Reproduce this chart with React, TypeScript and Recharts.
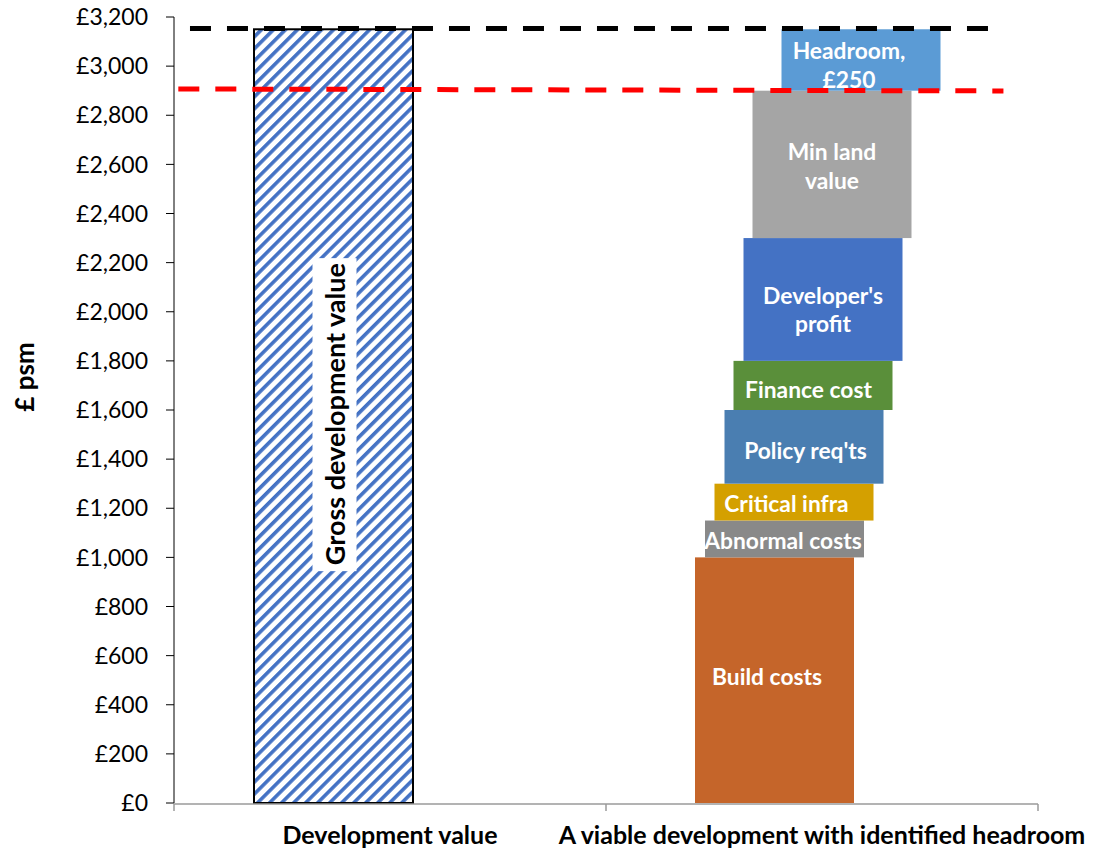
import React from 'react';
import { ComposedChart, Bar, XAxis, YAxis, ReferenceLine } from 'recharts';

const categories = ['Development value', 'A viable development with identified headroom'];
const grossDevValue = [3150, 0];
const buildCosts = [0, 1000];
const abnormalCosts = [0, 150];
const criticalInfra = [0, 150];
const policyReqs = [0, 300];
const financeCost = [0, 200];
const developerProfit = [0, 500];
const minLandValue = [0, 600];
const headroom = [0, 250];
const yTicks = [0, 200, 400, 600, 800, 1000, 1200, 1400, 1600, 1800, 2000, 2200, 2400, 2600, 2800, 3000, 3200];
const gdvLevel = 3153;
const minLevelStart = 2907;
const minLevelEnd = 2899;

const data = categories.map((c, i) => ({
  cat: c,
  gdv: grossDevValue[i],
  build: buildCosts[i],
  abnormal: abnormalCosts[i],
  critical: criticalInfra[i],
  policy: policyReqs[i],
  finance: financeCost[i],
  profit: developerProfit[i],
  minLand: minLandValue[i],
  headroom: headroom[i],
}));

const FONT = 'Lato, "Open Sans", sans-serif';

type Cfg = { key: string; fill: string; dx: number; lines: string[]; ldx: number; ldy: number[] };

const series: Cfg[] = [
  { key: 'build', fill: '#C5652A', dx: -48, lines: ['Build costs'], ldx: -7.5, ldy: [-4] },
  { key: 'abnormal', fill: '#898989', dx: -38, lines: ['Abnormal costs'], ldx: -1.5, ldy: [1] },
  { key: 'critical', fill: '#D4A000', dx: -28.5, lines: ['Critical infra'], ldx: -7.5, ldy: [0.5] },
  { key: 'policy', fill: '#4A7EB1', dx: -18.5, lines: ["Policy req'ts"], ldx: 1.5, ldy: [3] },
  { key: 'finance', fill: '#5A8F3A', dx: -9.5, lines: ['Finance cost'], ldx: -4.5, ldy: [3.5] },
  { key: 'profit', fill: '#4472C4', dx: 0.5, lines: ["Developer's", 'profit'], ldx: 0, ldy: [-4, 24] },
  { key: 'minLand', fill: '#A5A5A5', dx: 9.5, lines: ['Min land', 'value'], ldx: 0, ldy: [-13, 16] },
  { key: 'headroom', fill: '#5B9BD5', dx: 38.5, lines: ['Headroom,', '£250'], ldx: -12, ldy: [-10, 19] },
];

const makeShape = (cfg: Cfg) => (props: any) => {
  const { x, y, width, height } = props;
  if (!height || height <= 0) return <g />;
  const bx = x + cfg.dx;
  const cx = bx + width / 2 + cfg.ldx;
  const cy = y + height / 2;
  return (
    <g>
      <rect x={bx} y={y} width={width} height={height} fill={cfg.fill} />
      {cfg.lines.map((t, i) => (
        <text
          key={i}
          x={cx}
          y={cy + cfg.ldy[i]}
          textAnchor="middle"
          dominantBaseline="central"
          fill="#ffffff"
          fontFamily={FONT}
          fontWeight={700}
          fontSize={22.8}
        >
          {t}
        </text>
      ))}
    </g>
  );
};

const gdvShape = (props: any) => {
  const { x, y, width, height } = props;
  if (!height || height <= 0) return <g />;
  const bx = x - 57;
  const cx = bx + width / 2 + 1;
  const cy = y + height / 2 - 2;
  return (
    <g>
      <defs>
        <pattern id="gdvStripes" patternUnits="userSpaceOnUse" width={8.5} height={8.5} patternTransform="rotate(45)">
          <rect x={0} y={0} width={8.5} height={8.5} fill="#ffffff" />
          <rect x={0} y={0} width={3.6} height={8.5} fill="#4472C4" />
        </pattern>
      </defs>
      <rect x={bx} y={y} width={width} height={height} fill="url(#gdvStripes)" stroke="#000" strokeWidth={2} />
      <rect x={cx - 22} y={cy - 156} width={44} height={313} fill="#ffffff" />
      <text
        x={cx}
        y={cy}
        transform={`rotate(-90 ${cx} ${cy})`}
        textAnchor="middle"
        dominantBaseline="central"
        fill="#000"
        fontFamily={FONT}
        fontWeight={700}
        fontSize={27}
      >
        Gross development value
      </text>
    </g>
  );
};

const fmt = (v: number) => '£' + String(v).replace(/\B(?=(\d{3})+(?!\d))/g, ',');

const CatTick = (props: any) => {
  const { x, payload } = props;
  return (
    <text x={x} y={844} textAnchor="middle" fill="#000" fontFamily={FONT} fontWeight={700} fontSize={25}>
      {payload.value}
    </text>
  );
};

const EmptyTick = () => <g />;

export default function App() {
  return (
    <div style={{ position: 'absolute', left: 0, top: 0, width: 1094, height: 849, background: '#fff' }}>
      <ComposedChart
        width={1094}
        height={849}
        data={data}
        margin={{ top: 17, right: 56, bottom: 44, left: 74 }}
      >
        <XAxis
          xAxisId="n"
          type="number"
          domain={[0, 1]}
          ticks={[0, 0.5, 1]}
          height={1}
          tick={EmptyTick}
          tickSize={7}
          axisLine={{ stroke: '#9a9a9a', strokeWidth: 1.5 }}
          tickLine={{ stroke: '#9a9a9a', strokeWidth: 1.5 }}
        />
        <XAxis
          dataKey="cat"
          height={1}
          axisLine={false}
          tickLine={false}
          tickSize={0}
          tickMargin={0}
          tick={CatTick}
          interval={0}
        />
        <YAxis
          domain={[0, 3200]}
          ticks={yTicks}
          interval={0}
          width={100}
          tickFormatter={fmt}
          tickSize={8}
          tickMargin={18}
          axisLine={{ stroke: '#000' }}
          tickLine={{ stroke: '#000' }}
          tick={{ fill: '#000', fontFamily: FONT, fontSize: 23 }}
          label={{
            content: () => (
              <text
                x={24}
                y={377}
                transform="rotate(-90 24 377)"
                textAnchor="middle"
                dominantBaseline="central"
                fill="#000"
                fontFamily={FONT}
                fontWeight={700}
                fontSize={26}
              >
                £ psm
              </text>
            ),
          }}
        />
        <Bar dataKey="gdv" stackId="s" barSize={159} shape={gdvShape} isAnimationActive={false} />
        {series.map((s) => (
          <Bar key={s.key} dataKey={s.key} stackId="s" barSize={159} fill={s.fill} shape={makeShape(s)} isAnimationActive={false} />
        ))}
        <ReferenceLine
          xAxisId="n"
          segment={[{ x: 0.0185, y: gdvLevel }, { x: 0.95, y: gdvLevel }]}
          stroke="#000"
          strokeWidth={5}
          strokeDasharray="21 16"
          ifOverflow="visible"
        />
        <ReferenceLine
          xAxisId="n"
          segment={[{ x: 0.005, y: minLevelStart }, { x: 0.96, y: minLevelEnd }]}
          stroke="#FF0000"
          strokeWidth={5}
          strokeDasharray="21 16"
          ifOverflow="visible"
        />
      </ComposedChart>
    </div>
  );
}
